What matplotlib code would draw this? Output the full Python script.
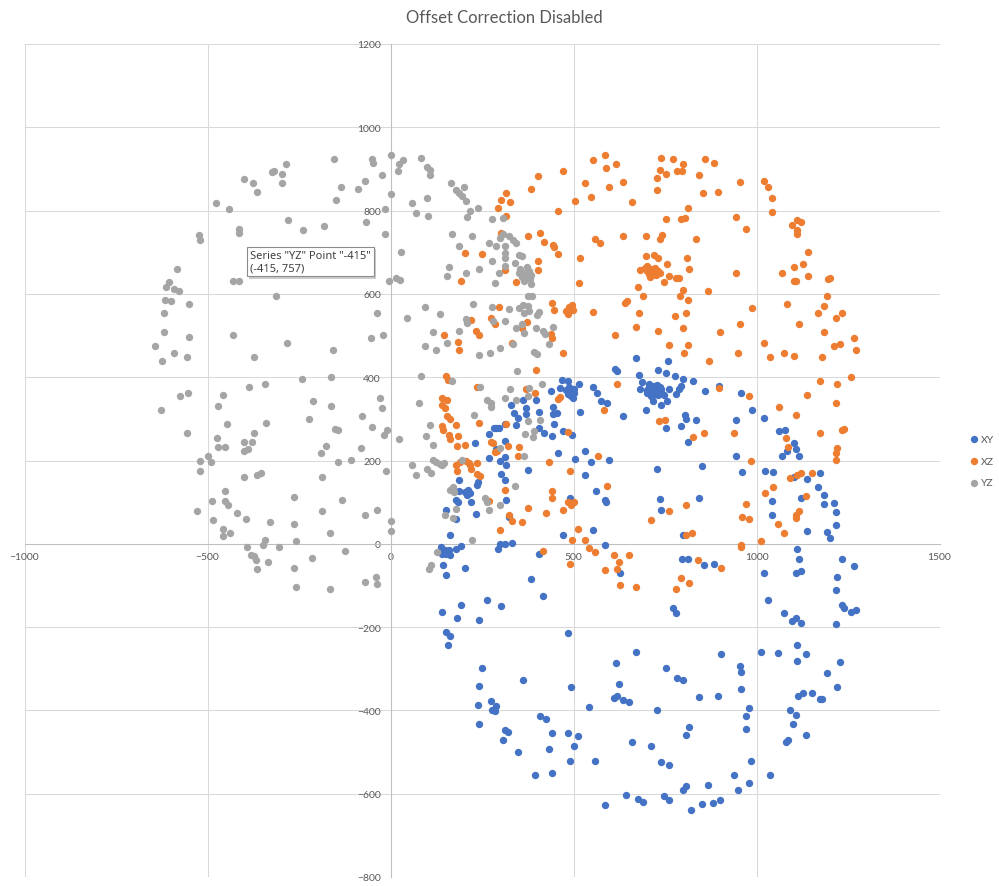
import matplotlib
matplotlib.use("Agg")
import matplotlib.pyplot as plt
import matplotlib.patheffects as pe
import numpy as np

plt.rcParams['font.family'] = ['Lato', 'DejaVu Sans']

title = "Offset Correction Disabled"
series_names = ["XY", "XZ", "YZ"]
series_colors = ["#4472C4", "#ED7D31", "#A5A5A5"]
x_ticks = [-1000, -500, 0, 500, 1000, 1500]
y_ticks = [-800, -600, -400, -200, 0, 200, 400, 600, 800, 1000, 1200]

xy_points = [
    (672,446),(759,438),
    (269,264),(283,278),(289,279),(296,278),(312,288),(232,241),(312,246),(270,206),(298,200),(289,228),(312,208),
    (301,168),(312,152),(186,154),(213,129),(203,125),(208,116),(217,122),(220,101),(187,126),(178,104),(184,100),
    (153,82),(180,59),(233,72),(240,148),(236,142),(162,22),(139,-8),(148,-16),(142,-24),(153,-24),(160,-16),
    (162,-28),(180,-12),(192,-6),(143,-50),(153,-76),(204,-59),(298,0),(312,0),(294,-13),
    (614,420),(620,414),(680,406),(732,417),(753,410),(776,402),(800,396),(469,393),(485,391),(516,384),(552,377),
    (565,363),(464,374),(438,367),(480,370),(488,376),(495,365),(500,372),(485,360),(492,355),(502,362),(498,350),
    (575,342),(592,339),(519,316),(634,306),(687,388),(683,372),(698,322),(716,343),(739,334),(755,342),(746,358),
    (762,372),(780,360),(789,372),(794,380),
    (700,370),(705,378),(710,365),(715,372),(720,380),(725,362),(730,370),(735,376),(712,355),(722,368),(708,360),
    (728,382),(740,365),(718,358),(700,362),(732,358),(705,384),(738,372),(715,366),(725,374),
    (805,310),(807,300),(794,282),(753,277),(812,244),(361,345),(370,326),(329,334),(338,314),(348,302),(370,312),
    (405,316),(398,345),(445,328),(455,314),(443,312),(446,287),(343,286),(405,278),(420,266),(440,260),(472,270),
    (496,262),(457,218),(531,222),(505,204),(547,197),(598,202),(375,178),(531,166),(727,180),(561,127),(587,106),
    (589,100),(490,110),(735,108),(738,82),(316,188),(316,104),(325,64),(470,22),(553,34),(587,-2),(332,2),(405,-25),
    (798,22),(796,-36),(812,-36),(628,-69),(385,-85),
    (826,390),(858,367),(898,380),(957,361),(989,322),(1021,302),(943,298),(834,298),(1061,270),(1077,274),
    (1103,242),(1109,228),(1084,224),(1116,212),(1069,210),(943,212),(852,186),(961,172),(1023,174),(1045,172),
    (1103,160),(1139,155),(1174,170),(1169,136),(1185,118),(1212,98),(1185,95),(1216,76),(1217,46),(1122,111),
    (1041,102),(1041,69),(1138,30),(1193,28),(1202,15),(843,109),(1110,-13),(1116,-36),(1233,-36),(1267,-54),
    (857,-50),(885,-49),(1021,-69),(1109,-69),(1122,-65),(1219,-80),
    (140,-164),(193,-146),(265,-134),(303,-150),(183,-178),(241,-182),(153,-211),(162,-222),(156,-243),(250,-298),
    (241,-342),(239,-386),(274,-378),(289,-390),(278,-398),(285,-401),(241,-433),(312,-446),(308,-470),
    (418,-126),(485,-213),(672,-260),(616,-286),(752,-297),(783,-323),(800,-327),(361,-327),(494,-344),(624,-337),
    (612,-370),(619,-365),(634,-374),(651,-381),(542,-393),(728,-400),(408,-414),(425,-421),(322,-453),(441,-454),
    (485,-454),(512,-461),(502,-486),(432,-493),(348,-500),(491,-521),(558,-521),(659,-477),(711,-486),(740,-524),
    (760,-530),(396,-554),(441,-551),(773,-154),(781,-166),(807,-458),(815,-440),(798,-592),(807,-582),(643,-602),
    (675,-613),(747,-605),
    (1031,-136),(1076,-166),(1096,-185),(1109,-179),(1122,-190),(1217,-110),(1234,-146),(1238,-154),(1259,-164),
    (1273,-158),(1217,-193),(903,-265),(954,-294),(959,-307),(959,-349),(1011,-260),(1060,-262),(1111,-242),
    (1111,-281),(1134,-265),(1227,-283),(1193,-311),(1220,-344),(1113,-365),(1127,-358),(1153,-358),(1174,-372),
    (1180,-372),(843,-367),(896,-365),(980,-395),(972,-414),(972,-444),(1092,-400),(1108,-412),(1100,-433),
    (1136,-458),(1080,-475),(1086,-470),(985,-522),(938,-556),(1036,-556),(868,-578),(980,-574),(949,-591),(900,-614),
    (585,-628),(690,-620),(760,-615),(820,-640),(850,-625),(880,-622),
]

xz_points = [
    (303,826),(294,806),(316,842),(316,788),(303,746),(204,699),(250,695),(193,630),(312,658),(296,569),(274,541),
    (220,537),(285,527),(233,511),(241,502),(146,502),(185,484),(187,466),
    (587,934),(552,922),(590,903),(616,912),(738,926),(773,924),(800,911),(735,898),(752,887),(783,894),(796,894),
    (727,878),(404,884),(470,896),(531,866),(598,856),(634,868),(727,850),(385,852),(326,820),(505,824),(547,833),
    (659,820),(457,798),(814,806),(752,779),(794,779),(806,783),(377,740),(408,747),(420,724),(443,718),(448,713),
    (457,695),(558,731),(573,723),(634,740),(699,740),(741,742),(737,732),(518,686),(404,679),(404,658),(343,628),
    (516,626),(698,690),(721,694),(730,686),(811,686),(815,660),(755,671),(683,658),
    (700,655),(705,648),(712,660),(718,652),(725,645),(708,640),(722,662),(730,655),(695,662),(715,645),(735,650),(702,668),
    (747,628),(762,642),(780,638),(789,638),(798,610),(675,616),(689,596),(791,595),(812,586),(646,582),(640,578),
    (440,577),(448,561),(480,560),(488,568),(495,574),(484,552),(498,562),(552,556),(680,555),(807,554),(776,547),
    (672,520),(731,510),(800,518),(373,532),(359,519),(439,504),(440,495),(332,482),(613,502),(760,478),(812,478),
    (470,459),(803,458),
    (858,924),(885,914),(842,885),(954,868),(1020,870),(1031,856),(853,842),(896,845),(1041,830),(943,784),
    (1041,796),(972,756),(1110,778),(1122,773),(1097,765),(1111,754),(1111,744),(835,733),(1140,700),(1126,672),
    (1102,665),(1069,651),(943,651),(1140,642),(1102,630),(1109,630),(1194,635),(1202,638),(868,606),(1193,595),
    (1083,576),(989,566),(1185,570),(1169,553),(1233,555),(1216,541),(1116,527),(956,527),(900,509),(1185,509),
    (1020,483),(1267,494),(1211,475),(1227,480),(1273,466),(950,457),(869,438),(1036,448),(1076,459),(1103,452),(1180,448),
    (153,402),(158,394),(235,376),(141,350),(154,345),(141,334),(149,327),(155,307),(162,300),(142,282),(143,274),
    (180,286),(241,290),(159,262),(162,252),(185,260),(183,234),(204,238),(274,245),(280,242),(291,223),(285,220),
    (315,288),(180,190),(189,196),(183,174),(207,200),(216,188),(221,180),(214,194),(236,194),(236,168),(244,162),
    (270,103),(298,32),(312,128),
    (398,417),(369,371),(396,361),(459,348),(463,353),(619,384),(584,322),(486,268),(321,234),(350,233),(348,212),
    (432,197),(566,210),(491,174),(592,138),(442,127),(441,110),(486,101),(495,98),(502,100),(493,92),(472,82),
    (375,86),(425,74),(323,68),(332,55),(360,53),(733,294),(751,298),(760,78),(712,58),(807,94),(513,36),(495,10),
    (531,8),(541,-9),(560,-20),(416,-18),(491,-49),(610,-27),(625,-43),(651,-27),(586,-62),(619,-60),(807,20),(794,-81),
    (898,374),(980,356),(1174,391),(1219,384),(1259,400),(1137,358),(1061,328),(1108,310),(1217,337),(826,256),
    (857,266),(938,265),(1080,254),(1086,232),(1174,267),(1234,274),(1239,276),(1219,230),(1216,218),(1216,202),
    (985,199),(1092,159),(1112,166),(1122,169),(1153,169),(1044,137),(1023,122),(1134,114),(972,95),(1116,79),
    (1107,68),(1109,63),(961,64),(980,59),(1060,48),(1076,27),(823,27),(1011,6),(959,-2),(959,-8),(841,-38),
    (904,-58),(816,-93),
    (627,-98),(672,-104),(781,-108),
]

yz_points = [
    (-286,912),(-325,892),(-318,894),(-297,887),(-399,877),(-375,867),(-296,867),(-365,845),(-476,819),(-442,805),
    (-279,777),(-240,754),(-415,757),(-415,747),(-524,742),(-521,730),(-582,660),(-606,628),(-614,617),(-592,611),
    (-577,606),(-431,630),(-413,630),(-312,595),(-617,586),(-600,582),(-551,576),(-620,555),(-620,509),(-551,497),
    (-431,502),(-644,476),(-282,481),(-591,458),(-555,448),(-623,439),(-372,448),
    (-154,924),(-51,924),(-48,914),(0,934),(22,911),(34,921),(20,896),(82,927),(100,904),(109,898),(107,886),
    (-24,885),(-70,870),(-135,856),(-89,851),(2,840),(-148,826),(164,866),(202,856),(180,850),(186,842),(194,834),
    (205,823),(60,819),(101,830),(217,798),(240,807),(69,795),(103,786),(209,784),(277,779),(308,782),(-16,805),
    (-68,773),(-181,764),(168,743),(224,739),(-14,744),(186,714),(268,723),(288,714),(298,734),(308,743),(312,714),
    (312,698),(29,700),(276,679),(312,686),(159,665),(154,642),(207,651),(241,659),(296,651),(312,666),(286,627),
    (16,638),(27,634),(-5,630),(225,576),(93,569),(278,568),(-38,554),(135,552),(45,541),(205,540),(209,529),
    (280,534),(312,535),(117,509),(188,511),(154,482),(-53,494),(-20,502),(-157,466),(95,475),(125,466),(241,453),
    (273,459),(298,470),
    (325,739),(336,730),(343,723),(350,694),(358,690),(340,674),
    (355,660),(362,650),(370,640),(378,655),(365,632),(385,645),(358,640),(372,665),(380,635),(350,650),(368,648),
    (384,624),(375,595),(387,595),(323,563),(352,566),(361,574),(375,572),(366,554),(378,558),(405,556),(400,550),
    (343,518),(359,527),(366,506),(398,517),(416,510),(422,503),(443,520),(434,479),(393,460),(399,456),(334,480),
    (-243,396),(-387,377),(-343,384),(-575,355),(-552,361),(-458,358),(-471,332),(-628,322),(-212,344),(-222,300),
    (-341,290),(-447,288),(-555,265),(-372,267),(-473,254),(-399,244),(-378,244),(-471,232),(-451,232),(-399,222),
    (-388,228),(-190,218),(-500,211),(-521,199),(-491,196),(-521,174),(-399,160),(-366,166),(-355,169),(-188,160),
    (-452,127),(-487,102),(-452,102),(-443,94),(-265,113),(-530,78),(-420,74),(-396,59),(-188,78),(-484,58),
    (-328,53),(-263,48),(-459,36),(-458,19),(-438,26),(-343,10),(-347,-2),(-259,6),(-391,-8),(-306,-8),(-381,-27),
    (-372,-29),(-367,-38),(-336,-43),(-214,-34),(-364,-60),(-265,-59),
    (-162,400),(82,402),(167,390),(244,376),(-30,351),(-24,327),(-162,332),(77,337),(-77,306),(-50,281),(-152,276),
    (-143,274),(-17,262),(-9,274),(22,251),(107,286),(98,259),(117,238),(-177,234),(-81,230),(-109,202),(-143,197),
    (-11,174),(58,190),(69,164),(101,180),(112,169),(116,202),(125,196),(134,192),(141,188),(146,194),(195,202),
    (228,310),(264,345),(275,338),(275,328),(312,350),(298,230),(162,128),(173,124),(171,136),(259,110),(265,100),
    (270,82),(298,94),(178,84),(149,68),(171,62),(-132,104),(-71,69),(-37,80),(0,54),(0,30),(-164,26),(223,9),
    (-125,-18),(128,-20),(112,-50),(105,-60),(-39,-80),(-71,-92),
    (346,416),(378,374),(414,384),(326,372),(343,346),(375,354),(375,296),(409,298),(367,264),(391,270),(388,256),
    (366,210),(341,138),
    (-258,-104),(-164,-108),(-38,-96),
]

tooltip_text = 'Series "YZ" Point "-415"\n(-415, 757)'

W, H = 999, 887
fig = plt.figure(figsize=(W / 100, H / 100), dpi=100)
fig.patch.set_facecolor("white")
ax = fig.add_axes([24.5 / W, 9 / H, 915 / W, 833 / H])

for name, color, pts in zip(series_names, series_colors, [xy_points, xz_points, yz_points]):
    arr = np.array(pts, dtype=float)
    ax.scatter(arr[:, 0], arr[:, 1], s=28, color=color, linewidths=0, label=name, zorder=3)

ax.set_xlim(-1000, 1500)
ax.set_ylim(-800, 1200)
ax.set_xticks(x_ticks)
ax.set_yticks(y_ticks)
ax.grid(True, color="#D9D9D9", linewidth=0.75, zorder=0)
ax.set_axisbelow(True)
for side in ["top", "right"]:
    ax.spines[side].set_visible(False)
ax.spines["left"].set_position("zero")
ax.spines["bottom"].set_position("zero")
for side in ["left", "bottom"]:
    ax.spines[side].set_color("#BFBFBF")
    ax.spines[side].set_linewidth(0.75)
    ax.spines[side].set_zorder(1)
ax.tick_params(axis="both", length=0, labelsize=7.5, labelcolor="#595959")
ax.tick_params(axis="y", pad=7)
ax.tick_params(axis="x", pad=6)

fig.text(504 / W, 1 - 18 / H, title, ha="center", va="center", fontsize=12, color="#595959")

tip = fig.text(250 / W, 1 - 262.5 / H, tooltip_text, ha="left", va="center", fontsize=8,
               family=["Noto Sans", "DejaVu Sans"], color="#404040", linespacing=1.15,
               bbox=dict(boxstyle="square,pad=0.3", fc="white", ec="#8C8C8C", lw=0.8))
tip.get_bbox_patch().set_path_effects([
    pe.withSimplePatchShadow(offset=(1.5, -1.5), shadow_rgbFace="#9A9A9A", alpha=0.5)])

handles, labels = ax.get_legend_handles_labels()
fig.legend(handles, labels, loc="center left", bbox_to_anchor=(964 / W, 1 - 462 / H), frameon=False,
           fontsize=7.5, handletextpad=0.1, handlelength=1.0, labelspacing=1.2, scatterpoints=1,
           labelcolor="#595959", borderpad=0)

fig.savefig("out.png", dpi=100, facecolor="white")
